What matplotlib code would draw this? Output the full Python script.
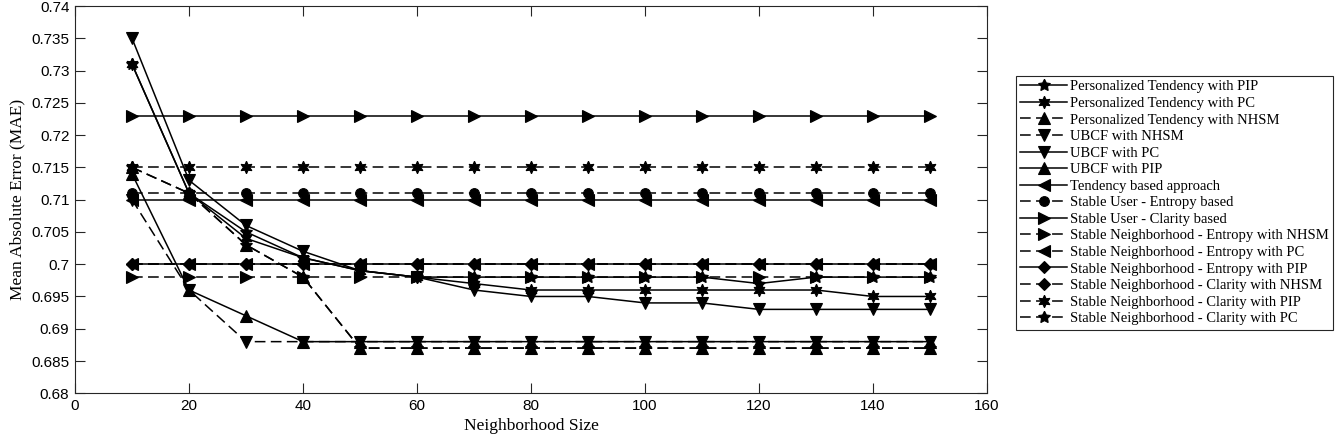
import matplotlib
matplotlib.use("Agg")
import matplotlib.pyplot as plt
from matplotlib.ticker import MultipleLocator, FuncFormatter

# neighborhood sizes on the x axis
neighborhood = [10, 20, 30, 40, 50, 60, 70, 80, 90, 100, 110, 120, 130, 140, 150]

# MAE per method
pt_pip = [0.731, 0.711, 0.705, 0.701, 0.699, 0.698, 0.698, 0.698, 0.698, 0.698, 0.698, 0.697, 0.698, 0.698, 0.698]
pt_pc = [0.731, 0.711, 0.704, 0.701, 0.699, 0.698, 0.697, 0.696, 0.696, 0.696, 0.696, 0.696, 0.696, 0.695, 0.695]
pt_nhsm = [0.715, 0.711, 0.703, 0.698, 0.687, 0.687, 0.687, 0.687, 0.687, 0.687, 0.687, 0.687, 0.687, 0.687, 0.687]
ubcf_nhsm = [0.710, 0.696, 0.688, 0.688, 0.688, 0.688, 0.688, 0.688, 0.688, 0.688, 0.688, 0.688, 0.688, 0.688, 0.688]
ubcf_pc = [0.735, 0.713, 0.706, 0.702, 0.699, 0.698, 0.696, 0.695, 0.695, 0.694, 0.694, 0.693, 0.693, 0.693, 0.693]
ubcf_pip = [0.714, 0.696, 0.692, 0.688, 0.688, 0.688, 0.688, 0.688, 0.688, 0.688, 0.688, 0.688, 0.688, 0.688, 0.688]
tendency = [0.710] * 15
su_entropy = [0.711] * 15
su_clarity = [0.723] * 15
sn_entropy_nhsm = [0.698] * 15
sn_entropy_pc = [0.700] * 15
sn_entropy_pip = [0.700] * 15
sn_clarity_nhsm = [0.700] * 15
sn_clarity_pip = [0.715] * 15
sn_clarity_pc = [0.715, 0.711, 0.703, 0.698, 0.687, 0.687, 0.687, 0.687, 0.687, 0.687, 0.687, 0.687, 0.687, 0.687, 0.687]

y_ticks = [0.68, 0.685, 0.69, 0.695, 0.70, 0.705, 0.71, 0.715, 0.72, 0.725, 0.73, 0.735, 0.74]

pentagram = (5, 1, 0)
hexagram = (6, 1, 0)
solid = '-'
dashed = (0, (7, 3.5))

series = [
    ("Personalized Tendency with PIP", pt_pip, solid, pentagram, 9),
    ("Personalized Tendency with PC", pt_pc, solid, hexagram, 9),
    ("Personalized Tendency with NHSM", pt_nhsm, dashed, '^', 8),
    ("UBCF with NHSM", ubcf_nhsm, dashed, 'v', 8),
    ("UBCF with PC", ubcf_pc, solid, 'v', 8),
    ("UBCF with PIP", ubcf_pip, solid, '^', 8),
    ("Tendency based approach", tendency, solid, '<', 8),
    ("Stable User - Entropy based", su_entropy, dashed, 'o', 7),
    ("Stable User - Clarity based", su_clarity, solid, '>', 8),
    ("Stable Neighborhood - Entropy with NHSM", sn_entropy_nhsm, dashed, '>', 8),
    ("Stable Neighborhood - Entropy with PC", sn_entropy_pc, dashed, '<', 8),
    ("Stable Neighborhood - Entropy with PIP", sn_entropy_pip, solid, 'D', 6.5),
    ("Stable Neighborhood - Clarity with NHSM", sn_clarity_nhsm, dashed, 'D', 6.5),
    ("Stable Neighborhood - Clarity with PIP", sn_clarity_pip, dashed, hexagram, 9),
    ("Stable Neighborhood - Clarity with PC", sn_clarity_pc, dashed, pentagram, 9),
]

axis_color = '#262626'

fig = plt.figure(figsize=(13.37, 4.46), dpi=100)
ax = fig.add_axes([0.0561, 0.1182, 0.6821, 0.8683])

for label, vals, ls, mk, ms in series:
    ax.plot(neighborhood, vals, color='black', linestyle=ls, linewidth=1.1,
            marker=mk, markersize=ms, markerfacecolor='black',
            markeredgecolor='black', markeredgewidth=0.8, label=label)

ax.set_xlim(0, 160)
ax.set_ylim(0.68, 0.74)
ax.xaxis.set_major_locator(MultipleLocator(20))
ax.set_yticks(y_ticks)
ax.yaxis.set_major_formatter(FuncFormatter(lambda v, p: '{:g}'.format(round(v, 3))))

ax.tick_params(direction='in', length=7, width=0.8, top=True, right=True,
               colors=axis_color, labelcolor='black', labelsize=11, pad=4)
for lab in ax.get_xticklabels() + ax.get_yticklabels():
    lab.set_fontfamily('Liberation Sans')
for sp in ax.spines.values():
    sp.set_color(axis_color)
    sp.set_linewidth(0.8)

ax.set_xlabel("Neighborhood Size", fontfamily='Liberation Serif', fontsize=12.5, labelpad=4)
ax.set_ylabel("Mean Absolute Error (MAE)", fontfamily='Liberation Serif', fontsize=12.5, labelpad=4)

leg = fig.legend(loc='upper left', bbox_to_anchor=(0.76, 0.83), bbox_transform=fig.transFigure,
                 prop={'family': 'Liberation Serif', 'size': 10.5},
                 handlelength=3.2, handletextpad=0.2, labelspacing=0.23,
                 borderpad=0.3, borderaxespad=0, fancybox=False, framealpha=1)
leg.get_frame().set_edgecolor(axis_color)
leg.get_frame().set_linewidth(0.8)

fig.savefig("out.png", dpi=100)
